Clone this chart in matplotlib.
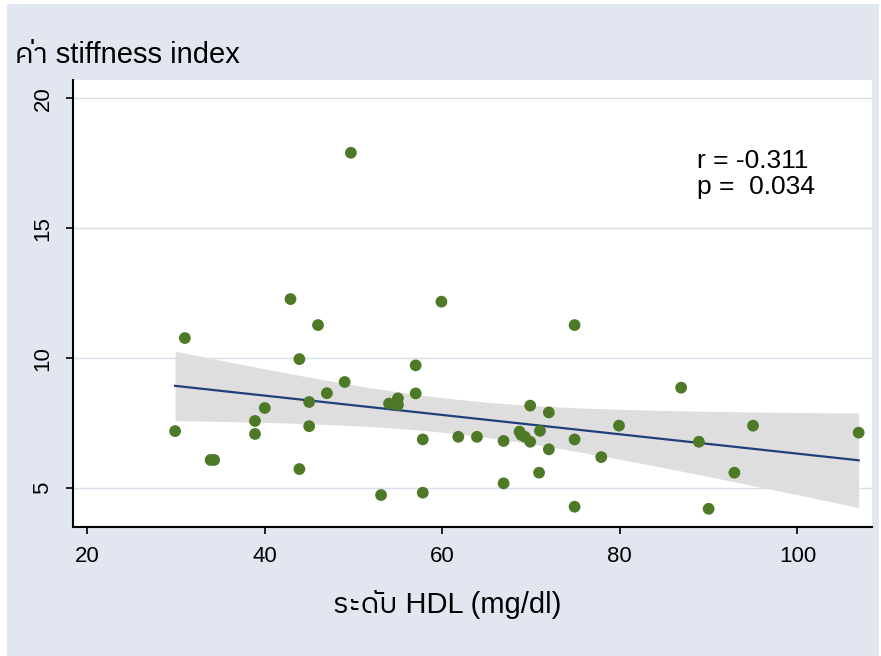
import matplotlib
matplotlib.use("Agg")
import numpy as np
import matplotlib.pyplot as plt
from matplotlib import font_manager
from matplotlib.patches import Rectangle

# ข้อมูล: ระดับ HDL (mg/dl) และค่า stiffness index
hdl = [49.7, 31.0, 29.9, 33.9, 34.3, 42.9, 46.0, 43.9, 49.0, 47.0,
       45.0, 40.0, 38.9, 38.9, 45.0, 43.9, 53.1, 54.0, 55.0, 55.0,
       59.9, 74.9, 57.0, 57.0, 57.8, 61.8, 63.9, 57.8, 66.9, 66.9,
       69.9, 72.0, 68.7, 68.9, 69.3, 69.9, 71.0, 72.0, 70.9, 74.9,
       74.9, 77.9, 79.9, 86.9, 88.9, 95.0, 92.9, 90.0, 106.9]
stiffness = [17.9, 10.77, 7.19, 6.08, 6.08, 12.27, 11.27, 9.96, 9.08, 8.65,
             8.31, 8.08, 7.58, 7.08, 7.38, 5.73, 4.73, 8.25, 8.45, 8.2,
             12.17, 11.27, 9.72, 8.64, 6.87, 6.97, 6.97, 4.82, 6.81, 5.18,
             8.17, 7.91, 7.17, 7.04, 6.97, 6.78, 7.2, 6.49, 5.59, 6.87,
             4.28, 6.19, 7.4, 8.86, 6.78, 7.4, 5.59, 4.2, 7.13]
x_ticks = [20, 40, 60, 80, 100]
y_ticks = [5, 10, 15, 20]
stat_text = "r = -0.311\np =  0.034"

# หาฟอนต์ที่มีอักษรไทย
names = sorted({f.name for f in font_manager.fontManager.ttflist})
thai_keys = ["Thai", "Loma", "Garuda", "Norasi", "Kinnari", "Waree", "Sawasdee", "Umpush", "Tlwg", "Laksaman"]
thai_fonts = [n for n in names if any(k in n for k in thai_keys)]
plt.rcParams["font.family"] = ["Liberation Sans"] + thai_fonts + ["DejaVu Sans"]

bg = "#E1E6F0"
fig = plt.figure(figsize=(8.81, 6.56), dpi=100)
fig.patch.set_facecolor("white")
fig.patches.append(Rectangle((7 / 881, 0), 872 / 881, 652 / 656, transform=fig.transFigure,
                             facecolor=bg, edgecolor="none", zorder=-10))
ax = fig.add_axes([73 / 881, 1 - 527 / 656, 799 / 881, 447 / 656])
ax.set_facecolor("white")

x = np.array(hdl)
y = np.array(stiffness)

# เส้นถดถอยเชิงเส้นพร้อมช่วงความเชื่อมั่น 95%
b, a = np.polyfit(x, y, 1)
n = len(x)
resid = y - (a + b * x)
s = np.sqrt(np.sum(resid ** 2) / (n - 2))
xs = np.linspace(x.min(), x.max(), 200)
se = s * np.sqrt(1 / n + (xs - x.mean()) ** 2 / np.sum((x - x.mean()) ** 2))
fit = a + b * xs
t = 2.013
ax.fill_between(xs, fit - t * se, fit + t * se, color="#DEDEDE", lw=0, zorder=1)
ax.plot(xs, fit, color="#1F3F78", lw=1.6, zorder=2)
ax.scatter(x, y, s=72, color="#4E7A27", edgecolors="none", zorder=3)

ax.set_xlim(18.4, 108.4)
ax.set_ylim(3.5, 20.7)
ax.set_xticks(x_ticks)
ax.set_yticks(y_ticks)
ax.grid(axis="y", color="#D6DEEA", lw=1)
ax.set_axisbelow(True)
for side in ["top", "right"]:
    ax.spines[side].set_visible(False)
for side in ["left", "bottom"]:
    ax.spines[side].set_linewidth(1.5)
ax.tick_params(axis="both", length=5, width=1.2, labelsize=16)
ax.tick_params(axis="x", pad=9)
ax.tick_params(axis="y", pad=9)
for lab in ax.get_yticklabels():
    lab.set_rotation(90)
    lab.set_va("center")

ax.text(88.7, 17.1, stat_text, fontsize=19, va="center", ha="left", linespacing=1.1)

ax.set_xlabel("ระดับ HDL (mg/dl)", fontsize=21)
ax.xaxis.set_label_coords(0.468, -0.14)
fig.text(15 / 881, 1 - 63 / 656, "ค่า stiffness index", fontsize=21, va="baseline", ha="left")

fig.savefig("out.png", dpi=100, facecolor=fig.get_facecolor())
